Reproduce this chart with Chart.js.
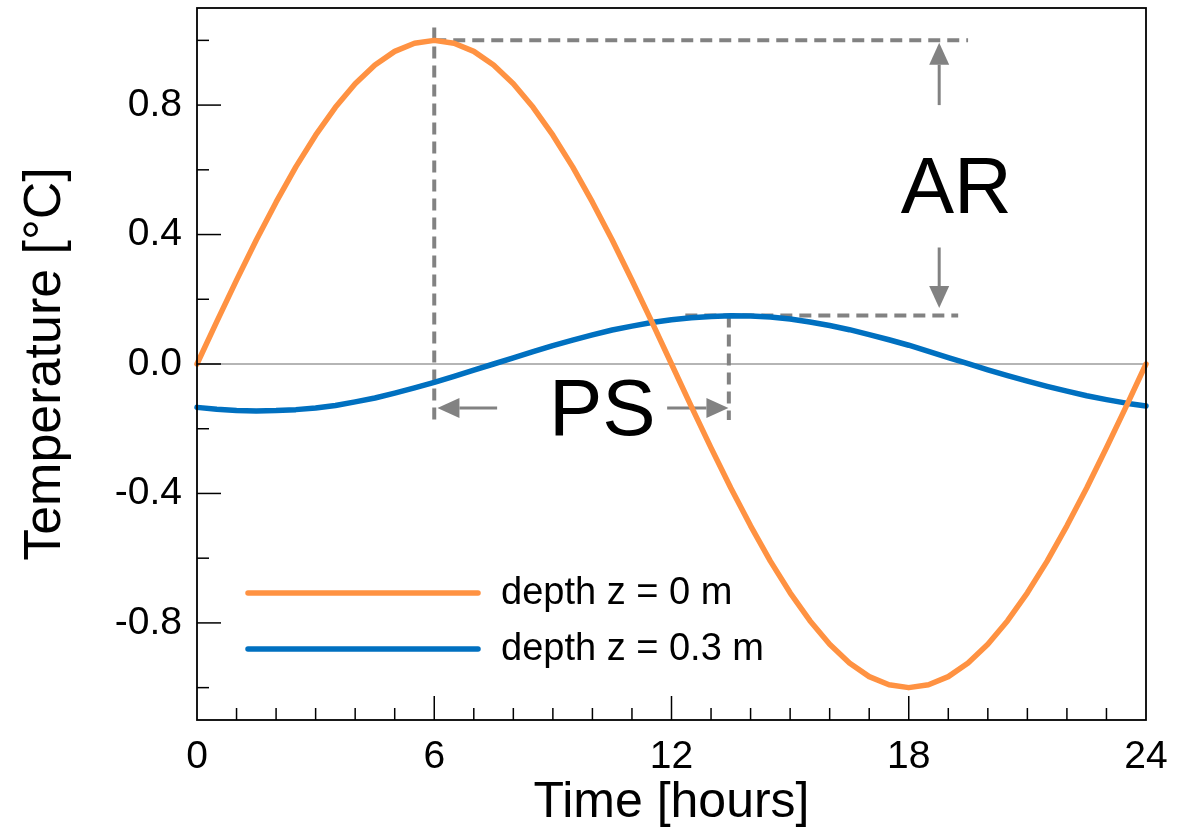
<!DOCTYPE html>
<html>
<head>
<meta charset="utf-8">
<script src="https://cdn.jsdelivr.net/npm/chart.js@4/dist/chart.umd.min.js"></script>
<style>
  html, body { margin: 0; padding: 0; background: #fff; }
</style>
</head>
<body>
<canvas id="chart" width="1184" height="835"></canvas>
<script>
// ─── DATA ──────────────────────────────────────────────────────────────────────
const hours = [
  0, 0.5, 1, 1.5, 2, 2.5, 3, 3.5, 4, 4.5, 5, 5.5, 6, 6.5, 7, 7.5, 8, 8.5, 9, 9.5,
  10, 10.5, 11, 11.5, 12, 12.5, 13, 13.5, 14, 14.5, 15, 15.5, 16, 16.5, 17, 17.5,
  18, 18.5, 19, 19.5, 20, 20.5, 21, 21.5, 22, 22.5, 23, 23.5, 24
]

// depth z = 0 m
const surfaceTemp = [
  0, 0.131, 0.259, 0.383, 0.5, 0.609, 0.707, 0.793, 0.866, 0.924, 0.966, 0.991, 1.0,
  0.991, 0.966, 0.924, 0.866, 0.793, 0.707, 0.609, 0.5, 0.383, 0.259, 0.131, 0,
  -0.131, -0.259, -0.383, -0.5, -0.609, -0.707, -0.793, -0.866, -0.924, -0.966, -0.991, -1.0,
  -0.991, -0.966, -0.924, -0.866, -0.793, -0.707, -0.609, -0.5, -0.383, -0.259, -0.131, 0
]

// depth z = 0.3 m
const deepTemp = [
  -0.134, -0.140, -0.144, -0.145, -0.144, -0.141, -0.136, -0.128, -0.117, -0.105,
  -0.090, -0.074, -0.057, -0.038, -0.019, 0.000, 0.019, 0.038, 0.057, 0.074,
  0.090, 0.105, 0.117, 0.128, 0.137, 0.143, 0.147, 0.149, 0.148, 0.145,
  0.139, 0.130, 0.119, 0.106, 0.091, 0.075, 0.058, 0.039, 0.020, 0.001,
  -0.018, -0.036, -0.053, -0.069, -0.084, -0.098, -0.110, -0.121, -0.130
]

const xTicks      = [0, 1, 2, 3, 4, 5, 6, 7, 8, 9, 10, 11, 12, 13, 14, 15, 16, 17, 18, 19, 20, 21, 22, 23, 24]
const xMajor      = [0, 6, 12, 18, 24]
const xMajorLabel = ["0", "6", "12", "18", "24"]
const yTicks      = [-1.0, -0.8, -0.6, -0.4, -0.2, 0.0, 0.2, 0.4, 0.6, 0.8, 1.0]
const yMajor      = [-0.8, -0.4, 0.0, 0.4, 0.8]
const yMajorLabel = ["-0.8", "-0.4", "0.0", "0.4", "0.8"]

const seriesNames = ["depth z = 0 m", "depth z = 0.3 m"]

// annotation anchors (data units: hours, °C)
const surfacePeak = [6, 1.0]
const deepPeak    = [13.45, 0.15]

const FONT   = "'Liberation Sans', Arial, Helvetica, sans-serif"
const ORANGE = "#ff9242"
const BLUE   = "#0070c0"
const GRAY   = "#828282"

const isMajor = (list, v) => list.findIndex(m => Math.abs(m - v) < 1e-6)

// ─── DRAW HELPERS ──────────────────────────────────────────────────────────────
function seg(ctx, x1, y1, x2, y2) {
  ctx.beginPath()
  ctx.moveTo(x1, y1)
  ctx.lineTo(x2, y2)
  ctx.stroke()
}

function arrow(ctx, x1, y1, x2, y2) {
  const ang = Math.atan2(y2 - y1, x2 - x1)
  const head = 22, half = 10
  const bx = x2 - Math.cos(ang) * head
  const by = y2 - Math.sin(ang) * head
  ctx.lineWidth = 3
  seg(ctx, x1, y1, bx, by)
  ctx.beginPath()
  ctx.moveTo(x2, y2)
  ctx.lineTo(bx - Math.sin(ang) * half, by + Math.cos(ang) * half)
  ctx.lineTo(bx + Math.sin(ang) * half, by - Math.cos(ang) * half)
  ctx.closePath()
  ctx.fill()
}

// ─── PLUGIN: guides, arrows, frame, ticks, legend ─────────────────────────────
const decorations = {
  id: "decorations",
  beforeDatasetsDraw(chart) {
    const { ctx, chartArea: a, scales: { x, y } } = chart
    const px = v => x.getPixelForValue(v)
    const py = v => y.getPixelForValue(v)
    ctx.save()

    // zero line
    ctx.strokeStyle = "#9c9c9c"
    ctx.lineWidth = 1.5
    seg(ctx, a.left, py(0), a.right, py(0))

    // dashed guides
    ctx.strokeStyle = GRAY
    ctx.lineWidth = 4
    ctx.lineCap = "butt"
    ctx.setLineDash([12, 7])
    seg(ctx, px(surfacePeak[0]), py(1.04), px(surfacePeak[0]), py(-0.173))
    seg(ctx, px(surfacePeak[0]), py(surfacePeak[1]), px(19.5), py(surfacePeak[1]))
    seg(ctx, px(deepPeak[0]), py(deepPeak[1]), px(deepPeak[0]), py(-0.173))
    seg(ctx, px(12.35), py(deepPeak[1]), px(19.25), py(deepPeak[1]))
    ctx.setLineDash([])

    // arrows
    ctx.strokeStyle = GRAY
    ctx.fillStyle = GRAY
    arrow(ctx, px(18.77), py(0.80), px(18.77), py(0.993))
    arrow(ctx, px(18.77), py(0.36), px(18.77), py(0.173))
    arrow(ctx, px(7.59), py(-0.136), px(6.08), py(-0.136))
    arrow(ctx, px(11.89), py(-0.136), px(13.44), py(-0.136))

    // labels
    ctx.fillStyle = "#000"
    ctx.font = `80px ${FONT}`
    ctx.textAlign = "center"
    ctx.textBaseline = "alphabetic"
    ctx.fillText("AR", px(19.2), py(0.467))
    ctx.fillText("PS", px(10.25), py(-0.22))

    ctx.restore()
  },
  afterDatasetsDraw(chart) {
    const { ctx, chartArea: a, scales: { x, y } } = chart
    ctx.save()

    // frame
    ctx.strokeStyle = "#000"
    ctx.lineWidth = 1.8
    ctx.strokeRect(a.left, a.top, a.right - a.left, a.bottom - a.top)

    // inward ticks
    ctx.lineWidth = 1.5
    y.ticks.forEach(t => {
      const len = isMajor(yMajor, t.value) >= 0 ? 24 : 12
      const p = y.getPixelForValue(t.value)
      seg(ctx, a.left, p, a.left + len, p)
    })
    x.ticks.forEach(t => {
      if (t.value <= 0 || t.value >= 24) return
      const len = isMajor(xMajor, t.value) >= 0 ? 24 : 12
      const p = x.getPixelForValue(t.value)
      seg(ctx, p, a.bottom, p, a.bottom - len)
    })

    // legend
    const colors = [ORANGE, BLUE]
    ctx.lineCap = "round"
    ctx.lineWidth = 5.5
    ctx.font = `38px ${FONT}`
    ctx.textAlign = "left"
    ctx.textBaseline = "middle"
    seriesNames.forEach((name, i) => {
      const ly = a.bottom - 127 + i * 56
      ctx.strokeStyle = colors[i]
      seg(ctx, a.left + 51, ly, a.left + 281, ly)
      ctx.fillStyle = "#000"
      ctx.fillText(name, a.left + 304, ly + 1)
    })

    ctx.restore()
  }
}

// ─── CHART ─────────────────────────────────────────────────────────────────────
const ctx = document.getElementById("chart").getContext("2d")

new Chart(ctx, {
  type: "line",
  data: {
    datasets: [
      {
        label: seriesNames[0],
        data: hours.map((h, i) => ({ x: h, y: surfaceTemp[i] })),
        borderColor: ORANGE,
        borderWidth: 5.5,
        pointRadius: 0,
        tension: 0,
        borderCapStyle: "round",
        borderJoinStyle: "round",
        clip: 8,
      },
      {
        label: seriesNames[1],
        data: hours.map((h, i) => ({ x: h, y: deepTemp[i] })),
        borderColor: BLUE,
        borderWidth: 5.5,
        pointRadius: 0,
        tension: 0,
        borderCapStyle: "round",
        borderJoinStyle: "round",
        clip: 8,
      },
    ],
  },
  options: {
    responsive: false,
    animation: false,
    events: [],
    layout: { padding: { top: 8, right: 38, bottom: 0, left: 0 } },
    plugins: {
      legend:  { display: false },
      tooltip: { enabled: false },
    },
    scales: {
      x: {
        type: "linear",
        min: 0,
        max: 24,
        afterBuildTicks: s => { s.ticks = xTicks.map(v => ({ value: v })) },
        afterFit: s => { s.height = 115; s.paddingLeft = 0; s.paddingRight = 0 },
        grid:   { display: false, drawTicks: false },
        border: { display: false },
        ticks: {
          autoSkip: false,
          maxRotation: 0,
          padding: 14,
          color: "#000",
          font: { size: 39, family: FONT },
          callback: v => {
            const i = isMajor(xMajor, v)
            return i >= 0 ? xMajorLabel[i] : ""
          },
        },
        title: {
          display: true,
          text: "Time [hours]",
          color: "#000",
          font: { size: 50, family: FONT },
          padding: { top: 0, bottom: 2 },
        },
      },
      y: {
        type: "linear",
        min: -1.1,
        max: 1.1,
        afterBuildTicks: s => { s.ticks = yTicks.map(v => ({ value: v })) },
        afterFit: s => { s.width = 197; s.paddingTop = 0; s.paddingBottom = 0 },
        grid:   { display: false, drawTicks: false },
        border: { display: false },
        ticks: {
          autoSkip: false,
          padding: 15,
          color: "#000",
          font: { size: 39, family: FONT },
          callback: v => {
            const i = isMajor(yMajor, v)
            return i >= 0 ? yMajorLabel[i] : ""
          },
        },
        title: {
          display: true,
          text: "Temperature [°C]",
          color: "#000",
          font: { size: 52, family: FONT },
          padding: { top: 14, bottom: 0 },
        },
      },
    },
  },
  plugins: [decorations],
})
</script>
</body>
</html>
